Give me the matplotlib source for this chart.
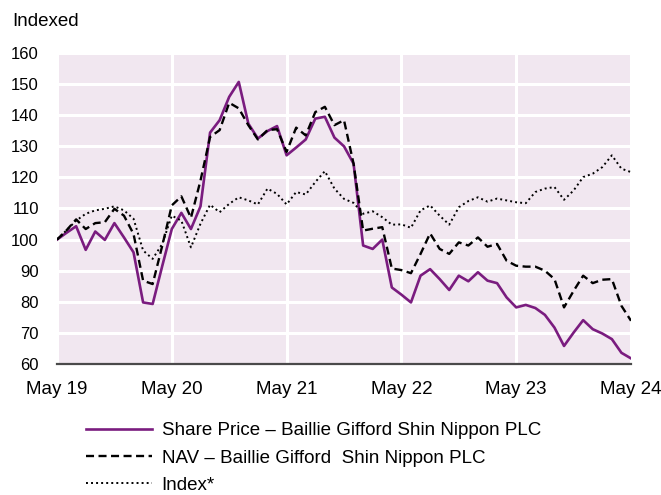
import numpy as np
import matplotlib.pyplot as plt

# monthly values, May 2019 .. May 2024 (61 points), rebased to 100
share_price = [100.0, 102.2, 104.3, 96.7, 102.6, 99.9, 105.3, 100.7, 95.9, 79.8,
               79.3, 91.5, 103.4, 108.6, 103.4, 110.7, 134.4, 138.4, 145.9, 150.7,
               137.3, 132.5, 134.9, 136.5, 127.1, 129.6, 132.2, 138.9, 139.5, 132.8,
               130.0, 124.4, 98.1, 97.0, 100.0, 84.6, 82.3, 79.8, 88.4, 90.5,
               87.3, 83.8, 88.4, 86.6, 89.5, 86.8, 86.0, 81.4, 78.2, 79.0,
               78.0, 75.8, 71.7, 65.8, 70.1, 74.1, 71.2, 69.8, 68.0, 63.6, 61.8]
nav = [100.0, 103.0, 106.5, 103.4, 105.3, 105.6, 109.9, 107.7, 101.8, 86.8,
       85.7, 98.0, 111.0, 113.9, 107.0, 119.0, 133.0, 135.2, 144.0, 142.2,
       136.8, 132.2, 135.2, 135.5, 128.2, 136.0, 133.5, 141.0, 142.7, 136.8,
       138.4, 124.4, 102.9, 103.5, 104.0, 90.7, 90.2, 89.2, 95.4, 102.0,
       97.0, 95.4, 99.1, 98.1, 100.7, 97.7, 98.6, 93.2, 91.6, 91.3,
       91.3, 90.0, 87.3, 78.2, 83.5, 88.4, 86.0, 87.1, 87.3, 78.7, 73.9]
index = [100.0, 103.0, 106.1, 108.3, 109.4, 109.9, 110.7, 109.4, 106.7, 96.5,
         93.8, 98.6, 107.7, 106.1, 97.5, 105.1, 111.2, 108.8, 111.5, 113.6,
         112.6, 111.3, 116.4, 114.7, 111.3, 115.3, 114.5, 118.5, 122.0, 116.4,
         113.1, 111.8, 108.3, 109.1, 107.2, 104.8, 104.9, 103.8, 109.4, 111.0,
         107.7, 104.8, 110.4, 112.4, 113.6, 112.2, 113.2, 112.6, 112.0, 111.7,
         115.3, 116.4, 116.9, 112.8, 115.8, 120.1, 121.2, 123.3, 127.1, 122.8, 121.7]
tick_labels = ['May 19', 'May 20', 'May 21', 'May 22', 'May 23', 'May 24']

labels = ['Share Price \u2013 Baillie Gifford Shin Nippon PLC',
          'NAV \u2013 Baillie Gifford  Shin Nippon PLC',
          'Index*']

plt.rcParams['font.family'] = ['Liberation Sans', 'DejaVu Sans']
fs = 13.5

fig = plt.figure(figsize=(6.61, 4.95), dpi=100)
ax = fig.add_axes([57 / 661, 1 - 364 / 495, 574 / 661, 311 / 495])
ax.set_facecolor('#f1e7f0')

months = np.arange(len(share_price))
l1, = ax.plot(months, share_price, color='#7a1c7f', lw=1.9, zorder=3)
l2, = ax.plot(months, nav, color='black', lw=1.7, ls=(0, (3.4, 1.9)), zorder=3)
l3, = ax.plot(months, index, color='black', lw=1.4, ls=(0, (1, 1.6)), zorder=3)

ax.set_xlim(0, 60)
ax.set_ylim(60, 160)
ax.set_yticks(np.arange(60, 161, 10))
ax.set_xticks(np.arange(0, 61, 12))
ax.set_xticklabels(tick_labels)
ax.tick_params(axis='both', length=0, colors='black')
ax.tick_params(axis='x', pad=12, labelsize=fs)
ax.tick_params(axis='y', pad=13, labelsize=12)

ax.grid(True, color='white', lw=2.2)
ax.set_axisbelow(True)
for s in ['top', 'right', 'left']:
    ax.spines[s].set_visible(False)
ax.spines['bottom'].set_color('#4a4a4a')
ax.spines['bottom'].set_linewidth(1.6)

fig.text(12 / 661, 1 - 21 / 495, 'Indexed', fontsize=fs, va='center', ha='left')

fig.legend([l1, l2, l3], labels, loc='upper left',
           bbox_to_anchor=(86 / 661, 1 - 422 / 495), frameon=False,
           borderpad=0, borderaxespad=0,
           fontsize=fs, handlelength=3.5, handletextpad=0.53, labelspacing=0.55)

fig.savefig('out.png', dpi=100)
